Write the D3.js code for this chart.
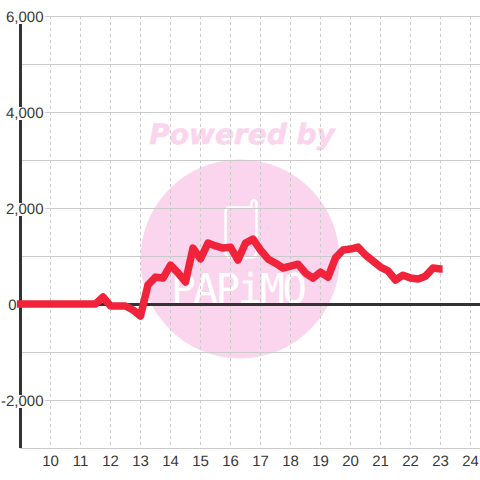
<!DOCTYPE html>
<html><head><meta charset="utf-8">
<script src="https://cdn.jsdelivr.net/npm/d3@7"></script>
<style>html,body{margin:0;padding:0;background:#fff}svg{display:block}text{font-family:"Liberation Sans",Arial,sans-serif;text-rendering:geometricPrecision}</style>
</head><body><div id="chart"></div>
<script>
const hours = [8.88,9,9.25,9.5,9.75,10,10.25,10.5,10.75,11,11.25,11.5,11.75,12,12.25,12.5,12.75,13,13.25,13.5,13.75,14,14.25,14.5,14.75,15,15.25,15.5,15.75,16,16.25,16.5,16.75,17,17.25,17.5,17.75,18,18.25,18.5,18.75,19,19.25,19.5,19.75,20,20.25,20.5,20.75,21,21.25,21.5,21.75,22,22.25,22.5,22.75,23,23.07];
const values = [0,0,0,0,0,0,0,0,0,0,0,0,146,-40,-40,-40,-125,-250,400,560,540,810,650,460,1165,940,1270,1210,1165,1185,915,1270,1350,1125,940,850,750,790,830,645,540,665,560,960,1125,1145,1185,1020,895,770,690,500,600,540,520,580,750,730,730];
const xTickValues = [10,11,12,13,14,15,16,17,18,19,20,21,22,23,24];
const yGridValues = [6000,5000,4000,3000,2000,1000,0,-1000,-2000,-3000];
const yLabelValues = [6000,4000,2000,-2000];
const zeroLabel = "0";
const watermarkTop = "Powered by";
const watermarkName = "PAPiMO";

const W=480,H=480;
const x=d3.scaleLinear().domain([9,24]).range([20.5,470.5]);
const y=d3.scaleLinear().domain([6000,-3000]).range([16,448]);
const svg=d3.select("#chart").append("svg").attr("width",W).attr("height",H);

// watermark
const wm=svg.append("g");
wm.append("circle").attr("cx",240).attr("cy",259).attr("r",99.5).attr("fill","#fbd5ed");
wm.append("text").text(watermarkTop).attr("x",242).attr("y",144).attr("text-anchor","middle")
  .style("font-family","'DejaVu Sans'").style("font-weight","bold").style("font-style","oblique")
  .style("font-size","28px").attr("fill","#fbd5ed").attr("stroke","#fbd5ed").attr("stroke-width",0.5);
wm.append("path").attr("d","M230 207.5 H251.5 V202 Q254 198 256.5 202 V252 Q256.5 257.5 251 257.5 H231 Q225.5 257.5 225.5 252 V212 Q225.5 207.5 230 207.5")
  .attr("fill","none").attr("stroke","#fff").attr("stroke-width",2.5);
wm.append("text").text(watermarkName).attr("x",171).attr("y",303).attr("textLength",136).attr("lengthAdjust","spacing")
  .style("font-family","'DejaVu Sans Mono'").style("font-size","41px").attr("fill","#fff");

// grid
svg.append("g").selectAll("line").data(yGridValues).join("line")
  .attr("x1",20).attr("x2",W).attr("y1",d=>y(d)).attr("y2",d=>y(d))
  .attr("stroke","#cacaca").attr("stroke-width",1).attr("shape-rendering","crispEdges");
svg.append("g").selectAll("line").data(xTickValues).join("line")
  .attr("x1",d=>x(d)).attr("x2",d=>x(d)).attr("y1",16).attr("y2",448)
  .attr("stroke","#cacaca").attr("stroke-dasharray","3,3").attr("shape-rendering","crispEdges");

// axes lines
svg.append("line").attr("x1",20.5).attr("x2",20.5).attr("y1",16).attr("y2",448).attr("stroke","#333").attr("stroke-width",3);
svg.append("line").attr("x1",20).attr("x2",W).attr("y1",y(0)+0.5).attr("y2",y(0)+0.5).attr("stroke","#333").attr("stroke-width",3);

// y labels with backing
const fmt=d=>d3.format(",")(d).replace("\u2212","-");
const yl=svg.append("g").selectAll("g").data(yLabelValues).join("g");
yl.append("rect").attr("x",2).attr("y",d=>y(d)-5).attr("width",43).attr("height",13).attr("fill","#fff");
yl.append("text").attr("x",43.5).attr("y",d=>y(d)+6).attr("text-anchor","end").style("font-size","15px").attr("fill","#383838").text(d=>fmt(d));
svg.append("text").attr("x",16.5).attr("y",y(0)+6).attr("text-anchor","end").style("font-size","15px").attr("fill","#383838").text(zeroLabel);

// x labels
svg.append("g").selectAll("text").data(xTickValues).join("text")
  .attr("x",d=>x(d)).attr("y",466).attr("text-anchor","middle").style("font-size","15px").attr("fill","#383838").text(d=>d);

// series
const line=d3.line().x((d,i)=>x(hours[i])).y(d=>y(d)).curve(d3.curveLinear);
svg.append("path").datum(values).attr("d",line).attr("fill","none").attr("stroke","#f0233a").attr("stroke-width",7.5).attr("stroke-linejoin","round");
</script></body></html>
